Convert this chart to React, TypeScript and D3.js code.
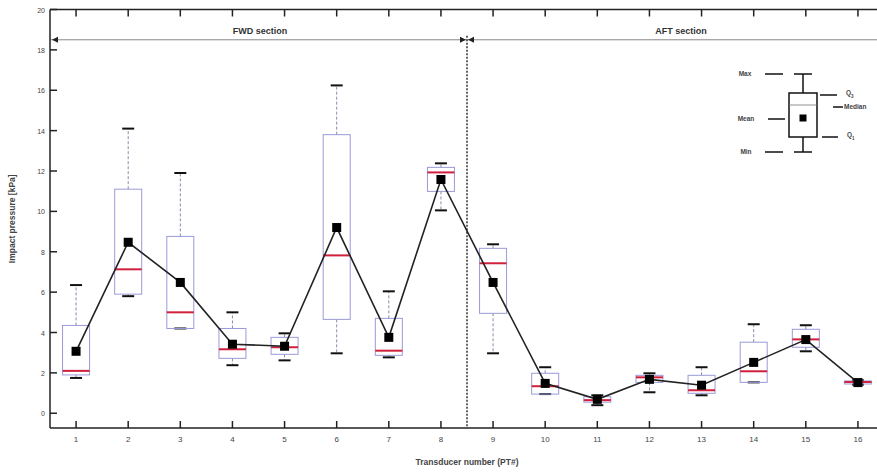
import React from "react";
import * as d3 from "d3";

const transducers = [1, 2, 3, 4, 5, 6, 7, 8, 9, 10, 11, 12, 13, 14, 15, 16];
const minVals = [1.75, 5.8, 4.2, 2.38, 2.62, 2.97, 2.77, 10.05, 2.97, 0.95, 0.4, 1.04, 0.89, 1.53, 3.07, 1.42];
const q1Vals = [1.9, 5.9, 4.2, 2.72, 2.92, 4.65, 2.87, 10.99, 4.95, 0.95, 0.55, 1.53, 0.99, 1.53, 3.27, 1.45];
const medianVals = [2.1, 7.13, 5.0, 3.17, 3.27, 7.82, 3.1, 11.93, 7.43, 1.34, 0.65, 1.78, 1.14, 2.08, 3.66, 1.55];
const q3Vals = [4.35, 11.1, 8.76, 4.2, 3.76, 13.8, 4.7, 12.18, 8.17, 1.98, 0.82, 1.88, 1.88, 3.52, 4.16, 1.6];
const maxVals = [6.35, 14.1, 11.9, 5.0, 3.96, 16.24, 6.04, 12.38, 8.37, 2.28, 0.89, 1.98, 2.28, 4.41, 4.36, 1.63];
const meanVals = [3.07, 8.47, 6.48, 3.42, 3.32, 9.2, 3.76, 11.58, 6.48, 1.48, 0.69, 1.68, 1.39, 2.52, 3.65, 1.52];
const yTicks = [0, 2, 4, 6, 8, 10, 12, 14, 16, 18, 20];
const sectionDivider = 8.5;
const sectionArrowLevel = 18.5;

const W = 877;
const H = 473;
const left = 50;
const right = 884;
const top = 9.5;
const bottom = 428;

export default function App() {
  const x = d3.scaleLinear().domain([0.5, 16.5]).range([left, right]);
  const y = d3.scaleLinear().domain([-0.73, 20]).range([bottom, top]);
  const boxW = 27;
  const capW = 12;
  const font = "'Liberation Sans', Arial, sans-serif";
  const line = d3
    .line<number>()
    .x((_, i) => x(transducers[i]))
    .y((d) => y(d));
  const yArrow = y(sectionArrowLevel);
  const xDiv = x(sectionDivider);
  const tri = (px: number, py: number, dir: number) =>
    `M${px},${py} L${px - dir * 6},${py - 3} L${px - dir * 6},${py + 3} Z`;

  // legend layout
  const lx = 803;
  return (
    <svg
      width={W}
      height={H}
      style={{ position: "absolute", left: 0, top: 0, background: "#fff" }}
      fontFamily={font}
    >
      {/* section arrows */}
      <line x1={left} x2={right} y1={yArrow} y2={yArrow} stroke="#888" strokeWidth={1} />
      <path d={tri(left + 2, yArrow, -1)} fill="#222" />
      <path d={tri(xDiv - 1, yArrow, 1)} fill="#222" />
      <path d={tri(xDiv + 1, yArrow, -1)} fill="#222" />
      <line x1={xDiv} x2={xDiv} y1={yArrow - 4} y2={bottom} stroke="#333" strokeWidth={1.5} strokeDasharray="2,1.5" />
      <text x={260} y={yArrow - 6} fontSize={9} fontWeight="bold" fill="#333" textAnchor="middle">FWD section</text>
      <text x={681} y={yArrow - 6} fontSize={9} fontWeight="bold" fill="#333" textAnchor="middle">AFT section</text>

      {/* boxes */}
      {transducers.map((t, i) => {
        const cx = x(t);
        return (
          <g key={t}>
            <line x1={cx} x2={cx} y1={y(q3Vals[i])} y2={y(maxVals[i])} stroke="#8a8aa8" strokeWidth={1} strokeDasharray="3,2" />
            <line x1={cx} x2={cx} y1={y(q1Vals[i])} y2={y(minVals[i])} stroke="#8a8aa8" strokeWidth={1} strokeDasharray="3,2" />
            <line x1={cx - capW / 2} x2={cx + capW / 2} y1={y(maxVals[i])} y2={y(maxVals[i])} stroke="#111" strokeWidth={2} />
            <line x1={cx - capW / 2} x2={cx + capW / 2} y1={y(minVals[i])} y2={y(minVals[i])} stroke="#111" strokeWidth={2} />
            <rect
              x={cx - boxW / 2}
              y={y(q3Vals[i])}
              width={boxW}
              height={Math.max(1, y(q1Vals[i]) - y(q3Vals[i]))}
              fill="none"
              stroke="#9a9ad8"
              strokeWidth={1}
            />
            <line x1={cx - boxW / 2} x2={cx + boxW / 2} y1={y(medianVals[i])} y2={y(medianVals[i])} stroke="#d0203c" strokeWidth={2} />
          </g>
        );
      })}

      {/* mean line */}
      <path d={line(meanVals) || ""} fill="none" stroke="#222" strokeWidth={1.6} />
      {meanVals.map((m, i) => (
        <rect key={i} x={x(transducers[i]) - 4.5} y={y(m) - 4.5} width={9} height={9} fill="#000" />
      ))}

      {/* axes frame */}
      <line x1={left} x2={right} y1={top} y2={top} stroke="#222" strokeWidth={1.5} />
      <line x1={left} x2={right} y1={bottom} y2={bottom} stroke="#222" strokeWidth={1.5} />
      <line x1={left} x2={left} y1={top} y2={bottom} stroke="#222" strokeWidth={1.5} />
      <line x1={right} x2={right} y1={top} y2={bottom} stroke="#222" strokeWidth={1.5} />
      {transducers.map((t) => (
        <g key={"xt" + t}>
          <line x1={x(t)} x2={x(t)} y1={bottom} y2={bottom - 7} stroke="#222" strokeWidth={1.5} />
          <line x1={x(t)} x2={x(t)} y1={top} y2={top + 7} stroke="#222" strokeWidth={1.5} />
          <text x={x(t)} y={bottom + 14} fontSize={8} fill="#444" textAnchor="middle">{t}</text>
        </g>
      ))}
      {yTicks.map((v) => (
        <g key={"yt" + v}>
          <line x1={left} x2={left + 7} y1={y(v)} y2={y(v)} stroke="#222" strokeWidth={1.5} />
          <line x1={right} x2={right - 7} y1={y(v)} y2={y(v)} stroke="#222" strokeWidth={1.5} />
          <text x={left - 5} y={y(v) + 3} fontSize={7} fill="#444" textAnchor="end">{v}</text>
        </g>
      ))}
      <text x={x(sectionDivider)} y={465} fontSize={8.5} fontWeight="bold" fill="#444" textAnchor="middle">Transducer number (PT#)</text>
      <text
        transform={`translate(15,${(top + bottom) / 2}) rotate(-90)`}
        fontSize={8.5}
        fontWeight="bold"
        fill="#444"
        textAnchor="middle"
      >
        Impact pressure [kPa]
      </text>

      {/* legend */}
      <g>
        <line x1={lx} x2={lx} y1={74} y2={152} stroke="#111" strokeWidth={1.5} />
        <line x1={lx - 9} x2={lx + 9} y1={74} y2={74} stroke="#111" strokeWidth={1.5} />
        <line x1={lx - 9} x2={lx + 9} y1={152} y2={152} stroke="#111" strokeWidth={1.5} />
        <rect x={lx - 14} y={93} width={28} height={44} fill="#fff" stroke="#111" strokeWidth={1.5} />
        <line x1={lx - 14} x2={lx + 14} y1={105} y2={105} stroke="#777" strokeWidth={0.8} />
        <rect x={lx - 3.5} y={114.5} width={7} height={7} fill="#000" />
        <line x1={765} x2={783} y1={74} y2={74} stroke="#111" strokeWidth={1.5} />
        <line x1={768} x2={785} y1={119} y2={119} stroke="#111" strokeWidth={1.5} />
        <line x1={765} x2={783} y1={152} y2={152} stroke="#111" strokeWidth={1.5} />
        <line x1={820} x2={837} y1={95} y2={95} stroke="#111" strokeWidth={1.5} />
        <line x1={833} x2={843} y1={107} y2={107} stroke="#111" strokeWidth={1.5} />
        <line x1={822} x2={838} y1={137} y2={137} stroke="#111" strokeWidth={1.5} />
        <text x={745} y={76} fontSize={6.5} fontWeight="bold" fill="#444" textAnchor="middle">Max</text>
        <text x={746} y={121} fontSize={6.5} fontWeight="bold" fill="#444" textAnchor="middle">Mean</text>
        <text x={746} y={154} fontSize={6.5} fontWeight="bold" fill="#444" textAnchor="middle">Min</text>
        <text x={846} y={95} fontSize={6.5} fontWeight="bold" fill="#444">Q<tspan fontSize={4.5} dy={3}>3</tspan></text>
        <text x={844} y={109} fontSize={6.5} fontWeight="bold" fill="#444">Median</text>
        <text x={847} y={137} fontSize={6.5} fontWeight="bold" fill="#444">Q<tspan fontSize={4.5} dy={3}>1</tspan></text>
      </g>
    </svg>
  );
}
